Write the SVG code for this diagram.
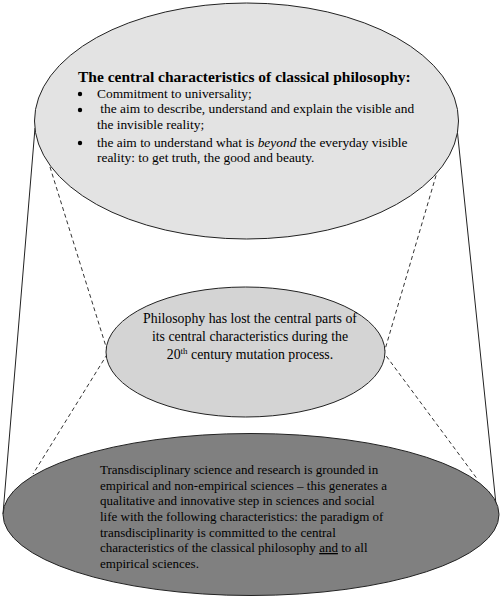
<svg xmlns="http://www.w3.org/2000/svg" width="500" height="599" viewBox="0 0 500 599">
<style>
.t{font-family:"Liberation Serif","Times New Roman",serif;font-size:13px;fill:#000}
.m{font-size:13.8px}
.u{font-size:13.4px}
.h{font-family:"Liberation Serif","Times New Roman",serif;font-size:15.5px;font-weight:bold;fill:#000}
.e{stroke:#222;stroke-width:1}
.s{stroke:#222;stroke-width:1;fill:none}
.d{stroke:#333;stroke-width:1;fill:none;stroke-dasharray:4,3}
</style>
<rect width="500" height="599" fill="#fff"/>
<g id="connectors">
<line class="s" x1="35" y1="128" x2="3" y2="514"/>
<line class="s" x1="457" y1="128" x2="497" y2="514"/>
<polyline class="d" points="50,167 108,353 33,474"/>
<polyline class="d" points="440,162 384,353 478,480"/>
</g>
<g id="bottom">
<ellipse class="e" cx="251" cy="514.5" rx="248" ry="81" fill="#808080"/>
<text class="t" x="100" y="474">Transdisciplinary science and research is grounded in</text>
<text class="t" x="100" y="489.5">empirical and non-empirical sciences – this generates a</text>
<text class="t" x="100" y="505">qualitative and innovative step in sciences and social</text>
<text class="t" x="100" y="521">life with the following characteristics: the paradigm of</text>
<text class="t" x="100" y="536.5">transdisciplinarity is committed to the central</text>
<text class="t" x="100" y="552">characteristics of the classical philosophy <tspan text-decoration="underline">and</tspan> to all</text>
<text class="t" x="100" y="567.5">empirical sciences.</text>
</g>
<g id="middle">
<ellipse class="e" cx="245.5" cy="352" rx="139.5" ry="65" fill="#d4d4d4"/>
<text class="t m" x="250" y="323" text-anchor="middle">Philosophy has lost the central parts of</text>
<text class="t m" x="250" y="341" text-anchor="middle">its central characteristics during the</text>
<text class="t m" x="250" y="359" text-anchor="middle">20<tspan font-size="9" dy="-5">th</tspan><tspan dy="5"> century mutation process.</tspan></text>
</g>
<g id="top">
<ellipse class="e" cx="246.5" cy="121" rx="212" ry="118" fill="#e3e3e3"/>
<text class="h" x="78" y="82">The central characteristics of classical philosophy:</text>
<circle cx="80" cy="94" r="2.2" fill="#000"/>
<circle cx="80" cy="110" r="2.2" fill="#000"/>
<circle cx="80" cy="143" r="2.2" fill="#000"/>
<text class="t u" x="97" y="97.5">Commitment to universality;</text>
<text class="t u" x="97" y="113">&#160;the aim to describe, understand and explain the visible and</text>
<text class="t u" x="97" y="128.5">the invisible reality;</text>
<text class="t u" x="97" y="146.5">the aim to understand what is <tspan font-style="italic">beyond</tspan> the everyday visible</text>
<text class="t u" x="97" y="162">reality: to get truth, the good and beauty.</text>
</g>
</svg>
